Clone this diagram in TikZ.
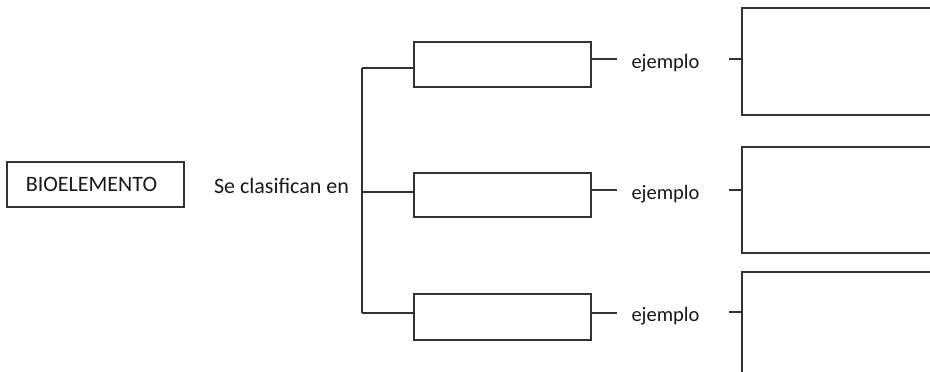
\documentclass[tikz,border=0pt]{standalone}
\usepackage{fontspec}
\setmainfont{Carlito}
\begin{document}
\begin{tikzpicture}[x=1pt,y=-1pt,
  box/.style={draw=black!80,line width=1.3pt,minimum width=177pt,inner sep=0pt,fill=white},
  bigbox/.style={draw=black!80,line width=1.3pt,minimum width=200pt,inner sep=0pt},
  lbl/.style={text=black!90,font=\fontsize{22}{26}\selectfont,inner sep=0pt},
  ex/.style={lbl,font=\fontsize{20.5}{24}\selectfont},
  con/.style={draw=black!80,line width=1.3pt}]
\useasboundingbox (0,0) rectangle (930,372);
\clip (0,0) rectangle (930,372);
\node[box,minimum height=45pt,lbl] (bio) at (95.5,184.5) {\hspace*{-8pt}BIOELEMENTO};
\node[lbl] (sc) at (281.5,186) {Se clasifican en};
\node[box,minimum height=45pt] (m1) at (502.5,64.5) {};
\node[box,minimum height=44pt] (m2) at (502.5,195) {};
\node[box,minimum height=46pt] (m3) at (502.5,317) {};
\node[ex] (e1) at (665.5,63) {ejemplo};
\node[ex] (e2) at (665.5,194) {ejemplo};
\node[ex] (e3) at (665.5,316) {ejemplo};
\node[bigbox,minimum height=107pt] (r1) at (842,61.5) {};
\node[bigbox,minimum height=106pt] (r2) at (842,200) {};
\node[bigbox,minimum height=108pt] (r3) at (842,326) {};
\coordinate (top) at (362,68);
\coordinate (mid) at (362,192);
\coordinate (bot) at (362,313);
\draw[con] (top) -- (bot);
\draw[con] (top) -- (m1.west |- top);
\draw[con] (mid) -- (m2.west |- mid);
\draw[con] (bot) -- (m3.west |- bot);
\coordinate (a1) at (617,59);
\coordinate (a2) at (617,190);
\coordinate (a3) at (617,313);
\draw[con] (m1.east |- a1) -- (a1);
\draw[con] (m2.east |- a2) -- (a2);
\draw[con] (m3.east |- a3) -- (a3);
\coordinate (b1) at (729,59);
\coordinate (b2) at (729,190);
\coordinate (b3) at (729,312);
\draw[con] (b1) -- (r1.west |- b1);
\draw[con] (b2) -- (r2.west |- b2);
\draw[con] (b3) -- (r3.west |- b3);
\end{tikzpicture}
\end{document}
